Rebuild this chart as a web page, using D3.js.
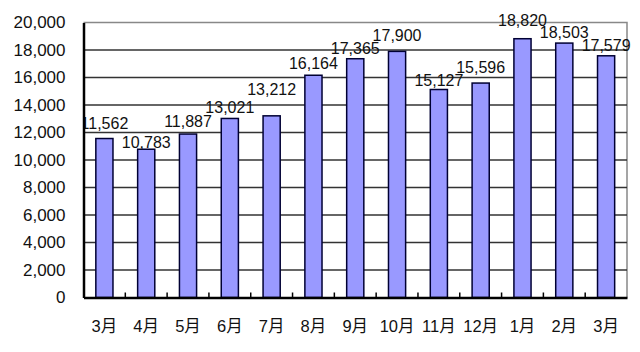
<!DOCTYPE html>
<html lang="ja">
<head>
  <meta charset="UTF-8" />
  <title>月別件数</title>
  <style>
    body { margin: 0; background: #fff; }
    svg { display: block; }
    text { font-family: "Liberation Sans", Arial, "Noto Sans CJK JP", sans-serif; fill: #111; }
  </style>
</head>
<body>
  <svg id="chart" width="640" height="352"></svg>

  <script src="https://d3js.org/d3.v7.min.js"></script>
  <script>
    // data
    const months = ["3月", "4月", "5月", "6月", "7月", "8月", "9月", "10月", "11月", "12月", "1月", "2月", "3月"];
    const counts = [11562, 10783, 11887, 13021, 13212, 16164, 17365, 17900, 15127, 15596, 18820, 18503, 17579];
    const yTicks = [0, 2000, 4000, 6000, 8000, 10000, 12000, 14000, 16000, 18000, 20000];

    // label lift above each bar (px), mimics the original placement
    const labelLift = [10, 1, 7, 5, 21, 6, 5, 10, 4, 10, 13, 5, 5];

    const margin = {top: 22.5, right: 13, bottom: 54.5, left: 83.5};
    const width = 640 - margin.left - margin.right;
    const height = 352 - margin.top - margin.bottom;

    const svg = d3.select("#chart")
      .append("g")
      .attr("transform", `translate(${margin.left},${margin.top})`);

    const keys = months.map((m, i) => i);
    const x = d3.scaleBand().domain(keys).range([0, width]).paddingInner(0.59).paddingOuter(0.295);
    const xb = d3.scaleBand().domain(keys).range([0, width]);
    const y = d3.scaleLinear().domain([0, 20000]).range([height, 0]);

    // plot frame (top / right)
    svg.append("path")
      .attr("d", `M0,0H${width}V${height}`)
      .attr("fill", "none")
      .attr("stroke", "#888")
      .attr("stroke-width", 1.5);

    // gridlines
    svg.selectAll(".grid")
      .data(yTicks.filter(d => d > 0 && d < 20000))
      .join("line")
      .attr("x1", 0).attr("x2", width)
      .attr("y1", d => y(d)).attr("y2", d => y(d))
      .attr("stroke", "#333")
      .attr("stroke-width", 1.5);

    // bars
    svg.selectAll(".bar")
      .data(counts)
      .join("rect")
      .attr("x", (d, i) => x(i))
      .attr("y", d => y(d))
      .attr("width", x.bandwidth())
      .attr("height", d => height - y(d))
      .attr("fill", "#9999ff")
      .attr("stroke", "#000033")
      .attr("stroke-width", 1.5);

    // value labels, clipped at the left axis
    svg.append("clipPath").attr("id", "plotClip")
      .append("rect").attr("x", 1).attr("y", -margin.top).attr("width", width + margin.right).attr("height", height + margin.top);

    svg.append("g").attr("clip-path", "url(#plotClip)")
      .selectAll("text")
      .data(counts)
      .join("text")
      .attr("x", (d, i) => x(i) + x.bandwidth() / 2)
      .attr("y", (d, i) => y(d) - labelLift[i])
      .attr("text-anchor", "middle")
      .attr("font-size", "16px")
      .text(d => d3.format(",")(d));

    // y axis
    const yAxis = svg.append("g")
      .call(d3.axisLeft(y).tickValues(yTicks).tickFormat(d3.format(",")).tickSize(0).tickPadding(18));
    yAxis.select(".domain").attr("stroke", "#000").attr("stroke-width", 2.5);
    yAxis.selectAll("text").attr("font-size", "17px").attr("fill", "#111").attr("font-family", null);

    // x axis
    const xAxis = svg.append("g")
      .attr("transform", `translate(0,${height})`)
      .call(d3.axisBottom(x).tickFormat(i => months[i]).tickSize(0).tickPadding(23));
    xAxis.select(".domain").attr("stroke", "#000").attr("stroke-width", 2.5);
    xAxis.selectAll("text").attr("font-size", "16.5px").attr("fill", "#111").attr("font-family", null);

    // category boundary ticks pointing up
    svg.selectAll(".bt")
      .data(keys.slice(1))
      .join("line")
      .attr("x1", i => xb(i)).attr("x2", i => xb(i))
      .attr("y1", height).attr("y2", height - 5)
      .attr("stroke", "#000")
      .attr("stroke-width", 1.5);
  </script>
</body>
</html>
